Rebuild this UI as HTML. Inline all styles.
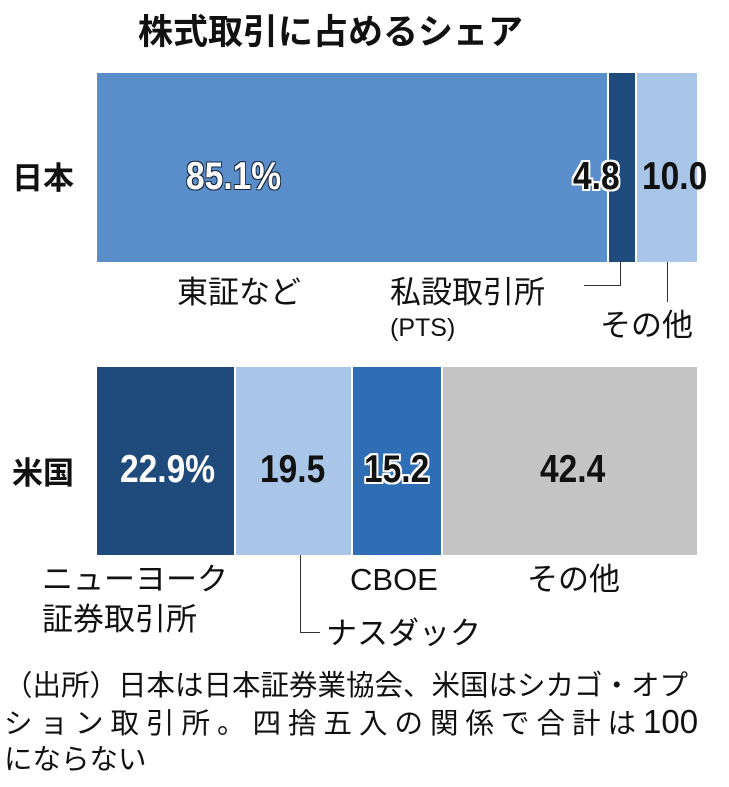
<!DOCTYPE html><html><head><meta charset="utf-8"><style>
body{margin:0;width:729px;height:787px;background:#fff;position:relative;overflow:hidden;font-family:"Liberation Sans","Noto Sans CJK JP",sans-serif;color:#111}
div{position:absolute}
.b{font-weight:bold}
.n{font-weight:bold;font-size:39px;line-height:40px;transform:scaleX(0.86);transform-origin:left top}
.l{font-size:31px;line-height:36px}
.ln{background:#333}
.w{text-shadow:2px 0 #fff,-2px 0 #fff,0 2px #fff,0 -2px #fff,2px 2px #fff,-2px -2px #fff,2px -2px #fff,-2px 2px #fff}
</style></head><body>
<div class="b" style="left:138px;top:12px;font-size:35px;line-height:42px">株式取引に占めるシェア</div>
<div class="b" style="left:12px;top:153px;font-size:31px">日本</div>
<div style="left:97px;top:73px;width:510px;height:189px;background:#5a8ecb"></div>
<div style="left:609px;top:73px;width:26px;height:189px;background:#1f4a7c"></div>
<div style="left:637px;top:73px;width:60px;height:189px;background:#a9c5e7"></div>
<div class="n" style="left:186px;top:157px;color:#fff;text-shadow:1px 1px #1a2a40,-1px -1px #1a2a40,1px -1px #1a2a40,-1px 1px #1a2a40">85.1%</div>
<div class="n w" style="left:573px;top:157px;color:#111">4.8</div>
<div class="n" style="left:642px;top:157px;color:#111">10.0</div>
<div class="l" style="left:177px;top:275px">東証など</div>
<div class="l" style="left:390px;top:275px">私設取引所</div>
<div style="left:390px;top:314px;font-size:25px">(PTS)</div>
<div class="ln" style="left:620px;top:262px;width:1px;height:24px"></div>
<div class="ln" style="left:584px;top:285px;width:37px;height:1px"></div>
<div class="ln" style="left:667px;top:262px;width:1px;height:40px"></div>
<div class="l" style="left:600px;top:308px">その他</div>
<div class="b" style="left:12px;top:448px;font-size:31px">米国</div>
<div style="left:97px;top:367px;width:137px;height:188px;background:#1f4a7c"></div>
<div style="left:236px;top:367px;width:115px;height:188px;background:#a9c5e7"></div>
<div style="left:353px;top:367px;width:88px;height:188px;background:#2f6db4"></div>
<div style="left:443px;top:367px;width:254px;height:188px;background:#c4c4c4"></div>
<div class="n" style="left:120px;top:450px;color:#fff">22.9%</div>
<div class="n" style="left:260px;top:450px">19.5</div>
<div class="n w" style="left:364px;top:450px;color:#111">15.2</div>
<div class="n" style="left:540px;top:450px">42.4</div>
<div class="l" style="left:42px;top:562px">ニューヨーク</div>
<div class="l" style="left:42px;top:602px">証券取引所</div>
<div class="ln" style="left:300px;top:555px;width:1px;height:78px"></div>
<div class="ln" style="left:300px;top:632px;width:20px;height:1px"></div>
<div class="l" style="left:326px;top:616px">ナスダック</div>
<div class="l" style="left:350px;top:562px">CBOE</div>
<div class="l" style="left:527px;top:562px">その他</div>
<div style="left:4px;top:668px;font-size:28.5px;line-height:36px;width:725px;white-space:nowrap">（出所）日本は日本証券業協会、米国はシカゴ・オプ<br><span style="letter-spacing:7px">ション取引所。四捨五入の関係で合計は</span><span style="font-size:33px">100</span><br>にならない</div>
</body></html>
